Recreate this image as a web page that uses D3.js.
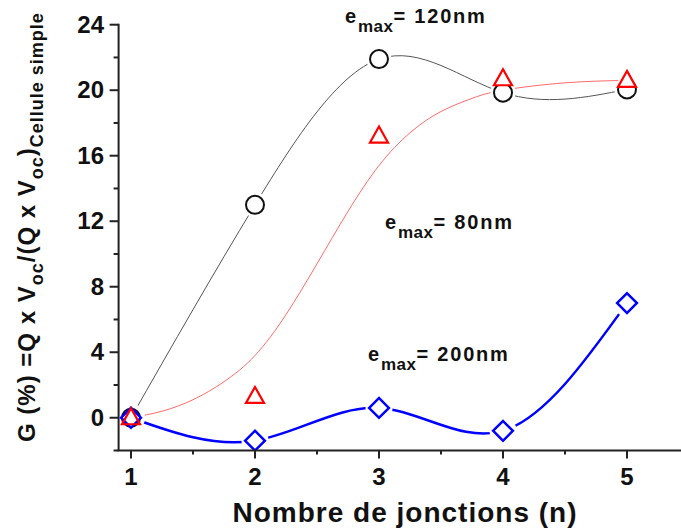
<!DOCTYPE html>
<html><head><meta charset="utf-8">
<script src="https://cdn.jsdelivr.net/npm/d3@7"></script>
<style>body{margin:0;background:#fff}svg{display:block}text{font-family:"Liberation Sans",Arial,sans-serif;font-weight:bold}</style>
</head><body>
<svg id="c" width="681" height="531"></svg>
<script>
const junctions = [1, 2, 3, 4, 5];
const g120 = [0, 13.0, 21.9, 19.85, 20.05];
const g80 = [0, 1.3, 17.2, 20.7, 20.6];
const g200 = [0, -1.4, 0.6, -0.8, 7.0];
// fitted (sigmoid) curve for 80nm
const fit80x = [1, 1.25, 1.5, 1.75, 2, 2.25, 2.5, 2.75, 3, 3.25, 3.5, 3.75, 4, 4.5, 5];
const fit80y = [0, 0.4, 1.1, 2.2, 3.8, 6.3, 9.4, 12.6, 15.4, 17.4, 18.7, 19.5, 20.0, 20.45, 20.6];
const xTicks = [1, 2, 3, 4, 5];
const yTicks = [0, 4, 8, 12, 16, 20, 24];
const xMinor = [1.5, 2.5, 3.5, 4.5];
const yMinor = [-2, 2, 6, 10, 14, 18, 22];

const svg = d3.select("#c");
const x = d3.scaleLinear().domain([0.9, 5.45]).range([118.6, 682.8]);
const y = d3.scaleLinear().domain([-2, 24]).range([450.5, 24.7]);

// lines
const line = d3.line().x((d, i) => x(junctions[i])).y(d => y(d)).curve(d3.curveNatural);
svg.append("path").attr("d", line(g120)).attr("fill", "none").attr("stroke", "#555").attr("stroke-width", 1);
const fitLine = d3.line().x((d, i) => x(fit80x[i])).y(d => y(d)).curve(d3.curveNatural);
svg.append("path").attr("d", fitLine(fit80y)).attr("fill", "none").attr("stroke", "#ff6b6b").attr("stroke-width", 1);
svg.append("path").attr("d", line(g200)).attr("fill", "none").attr("stroke", "#0000ff").attr("stroke-width", 2.5);

// halos (gaps around markers)
const halo = svg.append("g");
g120.forEach((v, i) => halo.append("circle").attr("cx", x(junctions[i])).attr("cy", y(v)).attr("r", i === 0 ? 14 : 12.5).attr("fill", "#fff"));
g200.forEach((v, i) => { if (i > 0) halo.append("circle").attr("cx", x(junctions[i])).attr("cy", y(v)).attr("r", 13.5).attr("fill", "#fff"); });

// markers
const mk = svg.append("g");
g120.forEach((v, i) => mk.append("circle").attr("cx", x(junctions[i])).attr("cy", y(v)).attr("r", 9)
  .attr("fill", "#fff").attr("stroke", "#111").attr("stroke-width", 2));
g200.forEach((v, i) => mk.append("path").attr("transform", `translate(${x(junctions[i])},${y(v)}) rotate(45)`)
  .attr("d", "M-7,-7H7V7H-7Z").attr("fill", "#fff").attr("stroke", "#0000ff").attr("stroke-width", 2.5));
g80.forEach((v, i) => mk.append("path").attr("transform", `translate(${x(junctions[i])},${y(v)})`)
  .attr("d", "M0,-9.5L9,6.5H-9Z").attr("fill", i === 0 ? "none" : "#fff").attr("stroke", "#ff0000").attr("stroke-width", 2.2));

// axes
const ax = svg.append("g").attr("stroke", "#222").attr("stroke-width", 2);
ax.append("line").attr("x1", x(0.9) - 1).attr("x2", 681).attr("y1", y(-2)).attr("y2", y(-2));
ax.append("line").attr("x1", x(0.9)).attr("x2", x(0.9)).attr("y1", y(-2)).attr("y2", y(24) - 1);
xTicks.forEach(t => ax.append("line").attr("x1", x(t)).attr("x2", x(t)).attr("y1", y(-2)).attr("y2", y(-2) + 8));
xMinor.forEach(t => ax.append("line").attr("x1", x(t)).attr("x2", x(t)).attr("y1", y(-2)).attr("y2", y(-2) + 4));
yTicks.forEach(t => ax.append("line").attr("x1", x(0.9)).attr("x2", x(0.9) - 9).attr("y1", y(t)).attr("y2", y(t)));
yMinor.forEach(t => ax.append("line").attr("x1", x(0.9)).attr("x2", x(0.9) - 5).attr("y1", y(t)).attr("y2", y(t)));

svg.selectAll(".xt").data(xTicks).join("text").attr("x", d => x(d)).attr("y", 485)
  .attr("text-anchor", "middle").attr("font-size", 24).attr("fill", "#111").text(d => d);
svg.selectAll(".yt").data(yTicks).join("text").attr("x", 104).attr("y", d => y(d) + 8)
  .attr("text-anchor", "end").attr("font-size", 24).attr("fill", "#111").text(d => d);

svg.append("text").attr("x", 405).attr("y", 522).attr("text-anchor", "middle").attr("font-size", 28)
  .attr("letter-spacing", 1).attr("fill", "#111").text("Nombre de jonctions (n)");

// y title
const yt = svg.append("text").attr("transform", "translate(35,442) rotate(-90)").attr("font-size", 24)
  .attr("letter-spacing", 1).attr("fill", "#111");
yt.append("tspan").text("G (%) =Q x V");
yt.append("tspan").attr("font-size", 18).attr("dy", 8).text("oc");
yt.append("tspan").attr("dy", -8).text("/(Q x V");
yt.append("tspan").attr("font-size", 18).attr("dy", 8).text("oc");
yt.append("tspan").attr("dy", -8).text(")");
yt.append("tspan").attr("font-size", 18).attr("dy", 8).text("Cellule simple");

// annotations
function ann(px, py, val) {
  const t = svg.append("text").attr("x", px).attr("y", py).attr("font-size", 20)
    .attr("letter-spacing", 1.8).attr("fill", "#111");
  t.append("tspan").text("e");
  t.append("tspan").attr("font-size", 17).attr("dy", 9).attr("letter-spacing", 0.5).text("max");
  t.append("tspan").attr("dy", -9).text("= " + val);
}
ann(345, 23, "120nm");
ann(385, 229, "80nm");
ann(368, 361, "200nm");
</script>
</body></html>
